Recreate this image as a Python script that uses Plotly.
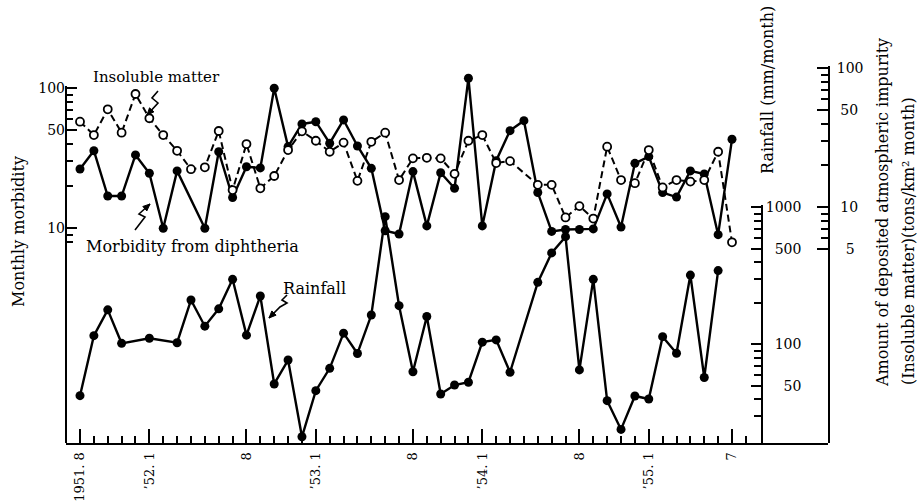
import math
import plotly.graph_objects as go

# ---- data (month index 0 = Aug 1951) ----
morb_months = [0, 1, 2, 3, 4, 5, 6, 7, 9, 10, 11, 12, 13, 14, 15, 16, 17, 18, 19, 20,
               21, 22, 23, 24, 25, 26, 27, 28, 29, 30, 31, 32, 33, 34, 35, 36, 37, 38,
               39, 40, 41, 42, 43, 44, 45, 46, 47]
morbidity = [26.5, 35.8, 17.0, 17.0, 33.4, 24.7, 10.0, 25.7, 10.0, 35.2, 16.6, 27.5,
             27.0, 100, 38.3, 55.6, 57.7, 40.5, 59.4, 38.7, 26.8, 9.6, 9.1, 25.4, 10.4,
             24.9, 19.3, 118, 10.4, 30.4, 49.8, 58.7, 18.0, 9.5, 9.8, 9.8, 9.9, 17.6,
             10.2, 29.1, 32.5, 18.0, 16.7, 25.7, 24.4, 9.0, 43.2]

insol_months = [0, 1, 2, 3, 4, 5, 6, 7, 8, 9, 10, 11, 12, 13, 14, 15, 16, 17, 18, 19,
                20, 21, 22, 23, 24, 25, 26, 27, 28, 29, 30, 31, 33, 34, 35, 36, 37, 38,
                39, 40, 41, 42, 43, 44, 45, 46, 47]
insoluble = [41.3, 33.1, 50.7, 34.4, 65.3, 43.7, 33.1, 25.5, 18.8, 19.4, 35.4, 13.3,
             28.5, 13.7, 16.8, 25.8, 35.2, 30.1, 25.1, 29.2, 15.5, 29.6, 34.4, 15.7,
             22.5, 22.7, 22.5, 17.4, 30.1, 33.1, 20.8, 21.5, 14.5, 14.5, 8.45, 10.2,
             8.3, 27.3, 15.7, 14.9, 25.8, 13.9, 15.7, 15.3, 15.7, 25.1, 5.6]

rain_months = [0, 1, 2, 3, 5, 7, 8, 9, 10, 11, 12, 13, 14, 15, 16, 17, 18, 19, 20, 21,
               22, 23, 24, 25, 26, 27, 28, 29, 30, 31, 33, 34, 35, 36, 37, 38, 39, 40,
               41, 42, 43, 44, 45, 46]
rainfall = [42.3, 116, 179, 102, 111, 103, 211, 136, 182, 299, 117, 226, 51.5, 77,
            21.2, 46, 67, 121, 86, 164, 857, 192, 63.3, 160, 43.5, 50.6, 53, 104, 108,
            62.7, 284, 466, 612, 65.2, 299, 38.9, 24.0, 42.1, 40, 114, 86.3, 321, 57.4,
            346]

x_tick_months = [0, 5, 12, 17, 24, 29, 36, 41, 47]
x_tick_text = ["1951. 8", "\u201952. 1", "8", "\u201953. 1", "8", "\u201954. 1", "8",
               "\u201955. 1", "7"]
x_minor_months = [m for m in range(0, 49) if m not in x_tick_months]

morb_major = [10, 50, 100]
morb_minor = [8, 9, 20, 30, 40, 60, 70, 80, 90]
imp_major = [5, 10, 50, 100]
imp_major_text = ["\u20075", "\u200510", "\u200550", "100"]
imp_minor = [6, 7, 8, 9, 20, 30, 40, 60, 70, 80, 90]
rain_major = [50, 100, 500, 1000]
rain_major_text = ["\u2007\u200750", "\u2007100", "\u2007500", "1000"]
rain_minor = [30, 40, 60, 70, 80, 90, 200, 300, 400, 600, 700, 800, 900]

# ---- geometry ----
W, H = 919, 504
ML, MR, MT, MB = 66, 91, 66, 61
PW, PH = W - ML - MR, H - MT - MB
FONT = "DejaVu Serif"


def px(x):
    return (x - ML) / PW


def py(y):
    return (H - MB - y) / PH


fig = go.Figure()

fig.add_trace(go.Scatter(
    x=rain_months, y=rainfall, yaxis="y2", mode="lines+markers", name="Rainfall",
    line=dict(color="black", width=2.4),
    marker=dict(color="black", size=9), cliponaxis=False))

fig.add_trace(go.Scatter(
    x=morb_months, y=morbidity, yaxis="y", mode="lines+markers",
    name="Morbidity from diphtheria",
    line=dict(color="black", width=2.4),
    marker=dict(color="black", size=9), cliponaxis=False))

fig.add_trace(go.Scatter(
    x=insol_months, y=insoluble, yaxis="y3", mode="lines+markers",
    name="Insoluble matter",
    line=dict(color="black", width=2, dash="7px,4px"),
    marker=dict(color="white", size=8, line=dict(color="black", width=1.8)),
    cliponaxis=False))

tick_font = dict(family=FONT, size=14, color="black")

fig.update_layout(
    width=W, height=H, margin=dict(l=ML, r=MR, t=MT, b=MB, autoexpand=False),
    paper_bgcolor="white", plot_bgcolor="rgba(0,0,0,0)", showlegend=False,
    xaxis=dict(
        range=[-1.009, 53.92], showgrid=False, zeroline=False, showline=True,
        linecolor="black", linewidth=2, ticks="inside", ticklen=14, tickwidth=1.5,
        tickcolor="black", tickmode="array", tickvals=x_tick_months,
        ticktext=x_tick_text, tickangle=-90,
        tickfont=dict(family=FONT, size=13, color="black"),
        ticklabelstandoff=2, automargin=False,
        minor=dict(tickmode="array", tickvals=x_minor_months, ticks="inside",
                   ticklen=7, tickwidth=1.5, tickcolor="black"),
    ),
    # morbidity axis spans the full height so the 1954 peak is not clipped;
    # its visible spine is drawn separately below and stops just above 100
    yaxis=dict(
        type="log", domain=[0, 1], range=[-0.5336, 2.159], showgrid=False,
        zeroline=False, showline=False,
        ticks="inside", ticklen=11, tickwidth=1.5, tickcolor="black",
        tickmode="array", tickvals=morb_major, ticktext=[str(v) for v in morb_major],
        tickfont=tick_font, automargin=False,
        minor=dict(tickmode="array", tickvals=morb_minor, ticks="inside",
                   ticklen=7, tickwidth=1.5, tickcolor="black"),
    ),
    yaxis2=dict(
        type="log", domain=[0, py(205)], range=[1.281, 3.018], anchor="free",
        position=px(762), side="right", showgrid=False, zeroline=False,
        showline=True, linecolor="black", linewidth=2, ticks="inside", ticklen=10,
        tickwidth=1.5, tickcolor="black", tickmode="array", tickvals=rain_major,
        ticktext=rain_major_text, tickfont=tick_font, automargin=False,
        minor=dict(tickmode="array", tickvals=rain_minor, ticks="inside",
                   ticklen=7, tickwidth=1.5, tickcolor="black"),
    ),
    yaxis3=dict(
        type="log", domain=[0, 1], range=[-0.6957, 2.0165], anchor="x",
        side="right", showgrid=False, zeroline=False, showline=True,
        linecolor="black", linewidth=2, ticks="inside", ticklen=11, tickwidth=1.5,
        tickcolor="black", tickmode="array", tickvals=imp_major,
        ticktext=imp_major_text, tickfont=tick_font, ticklabelstandoff=4,
        automargin=False,
        minor=dict(tickmode="array", tickvals=imp_minor, ticks="inside",
                   ticklen=7, tickwidth=1.5, tickcolor="black"),
    ),
)

# left spine of the morbidity axis
fig.add_shape(type="line", xref="paper", yref="paper", x0=0, x1=0, y0=0,
              y1=py(86), line=dict(color="black", width=2))


# ---- axis titles and series labels ----
def label(text, x, y, size=16, angle=0):
    fig.add_annotation(text=text, x=px(x), y=py(y), xref="paper", yref="paper",
                       xanchor="center", yanchor="middle", showarrow=False,
                       textangle=angle, font=dict(family=FONT, size=size, color="black"))


label("Monthly morbidity", 18, 232, angle=-90)
label("Rainfall (mm/month)", 767, 90, angle=-90)
label("Amount of deposited atmospheric impurity", 883, 213, angle=-90)
label("(Insoluble matter)(tons/km\u00b2 month)", 908, 241, angle=-90)
label("Insoluble matter", 156, 77, size=15)
label("Morbidity from diphtheria", 192, 246)
label("Rainfall", 314, 288)


# ---- squiggly pointers from labels to lines ----
def pointer(points):
    path = "M " + " L ".join(f"{px(x):.5f},{py(y):.5f}" for x, y in points)
    fig.add_shape(type="path", path=path, xref="paper", yref="paper",
                  line=dict(color="black", width=1.6))
    (x0, y0), (x1, y1) = points[-2], points[-1]
    d = math.hypot(x1 - x0, y1 - y0)
    ux, uy = (x1 - x0) / d, (y1 - y0) / d
    bx, by = x1 - 7 * ux, y1 - 7 * uy
    nx, ny = -uy * 3, ux * 3
    tri = [(x1, y1), (bx + nx, by + ny), (bx - nx, by - ny)]
    tpath = "M " + " L ".join(f"{px(x):.5f},{py(y):.5f}" for x, y in tri) + " Z"
    fig.add_shape(type="path", path=tpath, xref="paper", yref="paper",
                  line=dict(color="black", width=1), fillcolor="black")


pointer([(158, 91), (152, 98), (158, 103), (147, 115)])
pointer([(135, 230), (145, 217), (139, 214), (150, 204)])
pointer([(287, 295), (282, 300), (287, 303), (280, 307), (269, 318)])

fig.write_html("out.html")
